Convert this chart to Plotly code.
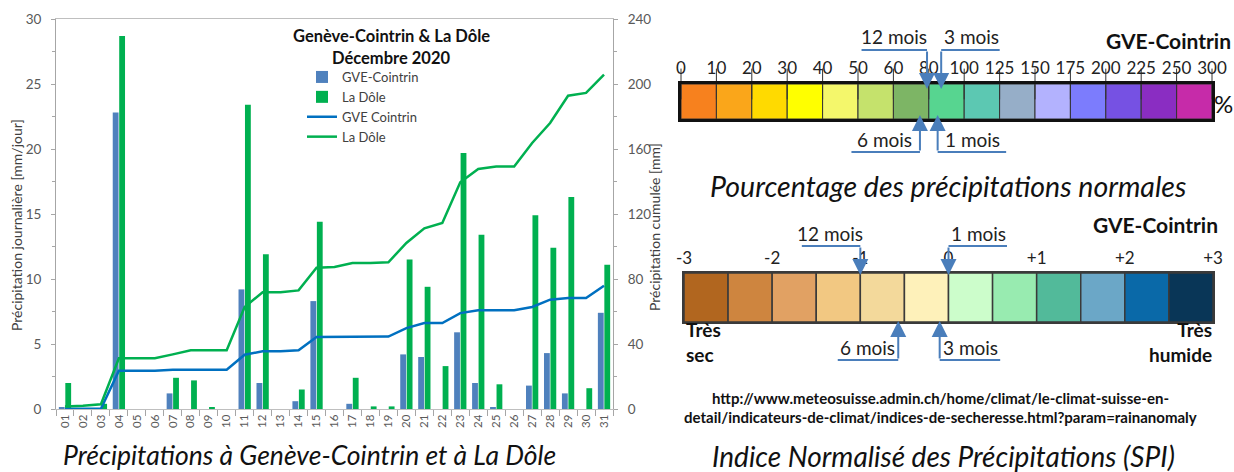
import numpy as np
import plotly.graph_objects as go

W, H = 1234, 472

# ---------------- data: daily precipitation December 2020 ----------------
days = ["01", "02", "03", "04", "05", "06", "07", "08", "09", "10",
        "11", "12", "13", "14", "15", "16", "17", "18", "19", "20",
        "21", "22", "23", "24", "25", "26", "27", "28", "29", "30", "31"]
gve_daily = [0.1, 0, 0, 22.8, 0, 0, 1.2, 0, 0, 0,
             9.2, 2.0, 0, 0.6, 8.3, 0, 0.4, 0, 0, 4.2,
             4.0, 0, 5.9, 2.0, 0.1, 0, 1.8, 4.3, 1.2, 0, 7.4]
dole_daily = [2.0, 0, 0.4, 28.7, 0, 0, 2.4, 2.2, 0.1, 0,
              23.4, 11.9, 0, 1.5, 14.4, 0, 2.4, 0.2, 0.2, 11.5,
              9.4, 3.3, 19.7, 13.4, 1.9, 0, 14.9, 12.4, 16.3, 1.6, 11.1]
gve_cum = [0.1, 0.1, 0.1, 23.6, 23.6, 23.6, 24.2, 24.2, 24.2, 24.2,
           33.4, 35.5, 35.5, 36.1, 44.3, 44.3, 44.6, 44.6, 44.6, 49.8,
           52.9, 52.9, 59.0, 60.7, 60.8, 60.8, 62.8, 67.3, 68.3, 68.3, 75.9]
dole_cum = [1.6, 2.0, 2.9, 31.2, 31.2, 31.2, 33.6, 36.1, 36.1, 36.1,
            62.8, 71.8, 71.8, 73.0, 87.0, 87.4, 89.8, 89.8, 90.3, 102.2,
            111.2, 114.5, 139.5, 147.7, 149.3, 149.3, 163.7, 176.0, 192.8, 194.5, 205.7]

# ---------------- data: % of normal precipitation scale ----------------
pct_bounds = [0, 10, 20, 30, 40, 50, 60, 80, 100, 125, 150, 175, 200, 225, 250, 300]
pct_colors = ["#F7811E", "#FAA61A", "#FFDA00", "#FFFF00", "#F4F76B", "#C5E26C",
              "#7DB565", "#57D590", "#5CC8B2", "#96AEC8", "#B3B2FE", "#7C7CFD",
              "#7651E3", "#8A2DC2", "#C62BA9"]
pct_horizons = ["12 mois", "3 mois", "6 mois", "1 mois"]
pct_values = [79, 87, 75, 85]

# ---------------- data: SPI scale ----------------
spi_bounds = [-3, -2.5, -2, -1.5, -1, -0.5, 0, 0.5, 1, 1.5, 2, 2.5, 3]
spi_colors = ["#B1661F", "#CE853F", "#E1A163", "#F2C882", "#F3D99B", "#FEF1BA",
              "#CCFDCB", "#98EBB0", "#52BA9A", "#6BA7C7", "#0A69A8", "#093657"]
spi_ticks = [-3, -2, -1, 0, 1, 2, 3]
spi_ticktext = ["-3", "-2", "-1", "0", "+1", "+2", "+3"]
spi_horizons = ["12 mois", "1 mois", "6 mois", "3 mois"]
spi_values = [-1.0, 0.0, -0.57, -0.1]


def px(x):
    return x / W


def py(y):
    return 1 - y / H


FONT = "Lato"
TICKC = "#595959"
ARROWC = "#4A7EBB"

fig = go.Figure()

# ---------------- main chart ----------------
fig.add_trace(go.Bar(x=days, y=gve_daily, name="GVE-Cointrin",
                     marker=dict(color="#4F81BD", line=dict(width=0)),
                     xaxis="x", yaxis="y"))
fig.add_trace(go.Bar(x=days, y=dole_daily, name="La Dôle",
                     marker=dict(color="#00B050", line=dict(width=0)),
                     xaxis="x", yaxis="y"))
fig.add_trace(go.Scatter(x=days, y=gve_cum, name="GVE Cointrin", mode="lines",
                         line=dict(color="#0070C0", width=2.5),
                         xaxis="x", yaxis="y2"))
fig.add_trace(go.Scatter(x=days, y=dole_cum, name="La Dôle", mode="lines",
                         line=dict(color="#00B050", width=2.5),
                         xaxis="x", yaxis="y2"))

# ---------------- percent scale ----------------
pct_idx = list(range(len(pct_bounds)))
fig.add_trace(go.Bar(x=[i + 0.5 for i in range(len(pct_colors))],
                     y=[1] * len(pct_colors), width=1, base=0,
                     marker=dict(color=pct_colors, line=dict(color="#333333", width=1)),
                     showlegend=False, hoverinfo="skip", xaxis="x2", yaxis="y3"))
# tick marks of the scale, drawn at every class boundary on top of the bar
fig.add_trace(go.Scatter(x=pct_idx, y=[1] * len(pct_idx), mode="markers",
                         marker=dict(symbol="line-ns", size=22, color="#333333",
                                     line=dict(color="#333333", width=1)),
                         cliponaxis=False, showlegend=False, hoverinfo="skip",
                         xaxis="x2", yaxis="y3"))

# ---------------- SPI scale ----------------
spi_centers = [(spi_bounds[i] + spi_bounds[i + 1]) / 2 for i in range(len(spi_colors))]
spi_widths = [spi_bounds[i + 1] - spi_bounds[i] for i in range(len(spi_colors))]
fig.add_trace(go.Bar(x=spi_centers, y=[1] * len(spi_colors), width=spi_widths, base=0,
                     marker=dict(color=spi_colors, line=dict(color="#3a3a3a", width=1.5)),
                     showlegend=False, hoverinfo="skip", xaxis="x3", yaxis="y4"))

annotations = []


def elbow(xref, xpos, tip_px, line_px, seg_px, label):
    # vertical arrow (tail at the horizontal line, head on the scale)
    annotations.append(dict(x=xpos, y=py(tip_px), xref=xref, yref="paper",
                            ax=0, ay=line_px - tip_px,
                            text="", showarrow=True, arrowhead=2, arrowsize=1.6,
                            arrowwidth=2, arrowcolor=ARROWC, standoff=0))
    # horizontal segment
    annotations.append(dict(x=xpos, y=py(line_px), xref=xref, yref="paper",
                            ax=seg_px, ay=0, text="", showarrow=True,
                            arrowhead=0, arrowwidth=2, arrowcolor=ARROWC, standoff=0))
    annotations.append(dict(x=xpos, y=py(line_px), xref=xref, yref="paper",
                            xanchor="center", yanchor="middle",
                            xshift=seg_px / 2, yshift=13, text=label, showarrow=False,
                            font=dict(family=FONT, size=19, color="#222222")))


# percent arrows layout: (above the scale?, horizontal segment length in px)
pct_layout = {"12 mois": (True, -67), "3 mois": (True, 60),
              "6 mois": (False, -70), "1 mois": (False, 70)}
for name, val in zip(pct_horizons, pct_values):
    above, seg = pct_layout[name]
    xpos = float(np.interp(val, pct_bounds, pct_idx))
    if above:
        elbow("x2", xpos, 89, 50, seg, name)
    else:
        elbow("x2", xpos, 115, 152, seg, name)

spi_layout = {"12 mois": (True, -60), "1 mois": (True, 60),
              "6 mois": (False, -62), "3 mois": (False, 62)}
for name, val in zip(spi_horizons, spi_values):
    above, seg = spi_layout[name]
    if above:
        elbow("x3", val, 275, 246, seg, name)
    else:
        elbow("x3", val, 321, 360, seg, name)


# ---------------- texts ----------------
def txt(x, y, text, size, bold=False, italic=False, color="#111111",
        xanchor="center", yanchor="middle", align="center", angle=0):
    t = text
    if bold:
        t = "<b>" + t + "</b>"
    if italic:
        t = "<i>" + t + "</i>"
    annotations.append(dict(x=px(x), y=py(y), xref="paper", yref="paper", text=t,
                            showarrow=False, xanchor=xanchor, yanchor=yanchor,
                            align=align, textangle=angle,
                            font=dict(family=FONT, size=size, color=color)))


txt(391, 36, "Genève-Cointrin & La Dôle", 16.5, bold=True)
txt(391, 58, "Décembre 2020", 16.5, bold=True)
txt(17, 225, "Précipitation journalière [mm/jour]", 14, color="#404040", angle=-90)
txt(655, 227, "Précipitation cumulée [mm]", 14, color="#404040", angle=-90)
txt(309, 455, "Précipitations à Genève-Cointrin et à La Dôle", 26.5, italic=True)

txt(1168, 40, "GVE-Cointrin", 21, bold=True)
txt(1223, 104, "%", 24)
txt(948, 186, "Pourcentage des précipitations normales", 28.5, italic=True)

txt(1155, 225, "GVE-Cointrin", 21, bold=True)
txt(684, 342, "Très<br>sec", 19, bold=True, xanchor="left", align="left")
txt(1214, 342, "Très<br>humide", 19, bold=True, xanchor="right", align="right")
txt(940, 398, "http://www.meteosuisse.admin.ch/home/climat/le-climat-suisse-en-", 15, bold=True)
txt(940, 417, "detail/indicateurs-de-climat/indices-de-secheresse.html?param=rainanomaly", 15, bold=True)
txt(943, 456, "Indice Normalisé des Précipitations (SPI)", 28, italic=True)

tickfont = dict(family=FONT, size=13.5, color=TICKC)

fig.update_layout(
    width=W, height=H,
    margin=dict(l=0, r=0, t=0, b=0, autoexpand=False),
    paper_bgcolor="white", plot_bgcolor="white",
    font=dict(family=FONT),
    barmode="group", bargap=0.28, bargroupgap=0.1,
    showlegend=True,
    legend=dict(x=px(302), y=py(62), xanchor="left", yanchor="top",
                bgcolor="rgba(0,0,0,0)", font=dict(family=FONT, size=13, color="#404040"),
                tracegroupgap=0, itemwidth=30),
    xaxis=dict(domain=[px(56), px(613)], anchor="y", type="category", automargin=False,
               range=[-0.5, 30.5], tickangle=-90, tickfont=dict(family=FONT, size=11.5, color=TICKC),
               ticks="outside", tickson="boundaries", ticklen=6, tickcolor="#A6A6A6",
               showline=True, linecolor="#BFBFBF", linewidth=1, mirror=True,
               showgrid=False, zeroline=False),
    yaxis=dict(domain=[py(409), py(19)], anchor="x", range=[0, 30], dtick=5, automargin=False,
               tickfont=tickfont, ticks="outside", ticklen=4, tickcolor="#A6A6A6",
               ticklabelstandoff=7,
               minor=dict(dtick=2.5, ticks="outside", ticklen=3, tickcolor="#A6A6A6"),
               showline=True, linecolor="#A6A6A6", linewidth=1,
               showgrid=False, zeroline=False),
    yaxis2=dict(overlaying="y", side="right", anchor="x", range=[0, 240], dtick=40,
                automargin=False,
                tickfont=tickfont, ticks="outside", ticklen=4, tickcolor="#A6A6A6",
                ticklabelstandoff=7,
                minor=dict(dtick=20, ticks="outside", ticklen=3, tickcolor="#A6A6A6"),
                showline=True, linecolor="#A6A6A6", linewidth=1,
                showgrid=False, zeroline=False),
    xaxis2=dict(domain=[px(681), px(1212)], anchor="y3", range=[0, len(pct_colors)],
                automargin=False,
                side="top", tickvals=pct_idx, ticktext=[str(v) for v in pct_bounds],
                tickfont=dict(family=FONT, size=17, color="#222222"),
                ticks="",
                showline=True, mirror=True, linecolor="#111111", linewidth=3,
                showgrid=False, zeroline=False, fixedrange=True),
    yaxis3=dict(domain=[py(119), py(84)], anchor="x2", range=[0, 1], automargin=False,
                showticklabels=False, ticks="",
                showline=True, mirror=True, linecolor="#111111", linewidth=3,
                showgrid=False, zeroline=False, fixedrange=True),
    xaxis3=dict(domain=[px(684), px(1213)], anchor="y4", range=[-3, 3], automargin=False,
                side="top", tickvals=spi_ticks, ticktext=spi_ticktext,
                tickfont=dict(family=FONT, size=17, color="#222222"),
                ticks="",
                showline=True, mirror=True, linecolor="#3a3a3a", linewidth=1.5,
                showgrid=False, zeroline=False, fixedrange=True),
    yaxis4=dict(domain=[py(322), py(273)], anchor="x3", range=[0, 1], automargin=False,
                showticklabels=False, ticks="",
                showline=True, mirror=True, linecolor="#3a3a3a", linewidth=1.5,
                showgrid=False, zeroline=False, fixedrange=True),
    annotations=annotations,
)

fig.write_html("out.html", config={"displayModeBar": False},
               post_script="document.body.style.margin='0';document.body.style.padding='0';")
